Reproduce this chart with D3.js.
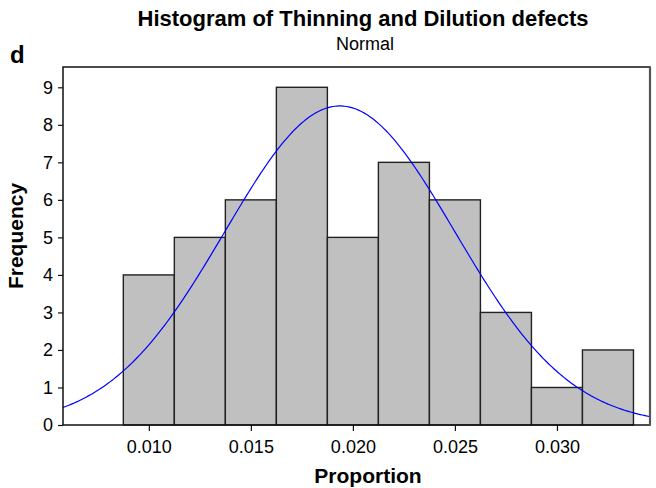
<!DOCTYPE html>
<html>
<head>
<meta charset="utf-8">
<script src="https://cdn.jsdelivr.net/npm/d3@7"></script>
<style>
  body { margin: 0; background: #fff; }
  text { font-family: "Liberation Sans", Arial, sans-serif; fill: #000; }
</style>
</head>
<body>
<div id="chart"></div>
<script>
// bin midpoints and counts
var midpoints = [0.010, 0.0125, 0.015, 0.0175, 0.020, 0.0225, 0.025, 0.0275, 0.030, 0.0325];
var counts = [4, 5, 6, 9, 5, 7, 6, 3, 1, 2];
var binWidth = 0.0025;
var xTicks = [0.010, 0.015, 0.020, 0.025, 0.030];
var yTicks = [0, 1, 2, 3, 4, 5, 6, 7, 8, 9];
// fitted normal (Minitab overlay)
var fitMean = 0.01936, fitSd = 0.00563;

(function() {
  var width = 656, height = 488;
  var left = 63, right = 650, top = 67, bottom = 425;

  var svg = d3.select("#chart").append("svg")
    .attr("width", width)
    .attr("height", height);

  var x = d3.scaleLinear().domain([0.005794, 0.03456]).range([left, right]);
  var y = d3.scaleLinear().domain([0, 9]).range([bottom, 87.3]);

  svg.append("clipPath").attr("id", "plotclip")
    .append("rect")
    .attr("x", left).attr("y", top)
    .attr("width", right - left).attr("height", bottom - top);

  // bars
  svg.selectAll(".bar")
    .data(midpoints)
    .enter().append("rect")
    .attr("class", "bar")
    .attr("x", function(d) { return x(d - binWidth / 2); })
    .attr("y", function(d, i) { return y(counts[i]); })
    .attr("width", function(d) { return x(d + binWidth / 2) - x(d - binWidth / 2); })
    .attr("height", function(d, i) { return y(0) - y(counts[i]); })
    .attr("fill", "#c0c0c0")
    .attr("stroke", "#222")
    .attr("stroke-width", 1.4);

  // normal curve scaled to counts
  var n = d3.sum(counts);
  var curveX = d3.range(x.domain()[0], x.domain()[1] + 1e-6, (x.domain()[1] - x.domain()[0]) / 300);
  var line = d3.line()
    .x(function(v) { return x(v); })
    .y(function(v) {
      var z = (v - fitMean) / fitSd;
      return y(n * binWidth * Math.exp(-0.5 * z * z) / (fitSd * Math.sqrt(2 * Math.PI)));
    });
  svg.append("path")
    .datum(curveX)
    .attr("d", line)
    .attr("clip-path", "url(#plotclip)")
    .attr("fill", "none")
    .attr("stroke", "#0000ff")
    .attr("stroke-width", 1.2);

  // frame
  svg.append("rect")
    .attr("x", left).attr("y", top)
    .attr("width", right - left).attr("height", bottom - top)
    .attr("fill", "none")
    .attr("stroke", "#111")
    .attr("stroke-width", 1.5);
  svg.append("line")
    .attr("x1", right).attr("x2", right)
    .attr("y1", top).attr("y2", bottom)
    .attr("stroke", "#555")
    .attr("stroke-width", 2.2);

  // axes
  var xAxis = svg.append("g")
    .attr("transform", "translate(0," + bottom + ")")
    .call(d3.axisBottom(x).tickValues(xTicks).tickFormat(d3.format(".3f")).tickSize(6).tickSizeOuter(0));
  var yAxis = svg.append("g")
    .attr("transform", "translate(" + left + ",0)")
    .call(d3.axisLeft(y).tickValues(yTicks).tickFormat(d3.format("d")).tickSize(5).tickSizeOuter(0));

  [xAxis, yAxis].forEach(function(g) {
    g.select(".domain").remove();
    g.selectAll("line").attr("stroke", "#111").attr("stroke-width", 1.2);
    g.selectAll("text")
      .attr("font-family", "Liberation Sans, Arial, sans-serif")
      .attr("font-size", 18)
      .attr("fill", "#000");
  });
  xAxis.selectAll("text").attr("dy", "0.71em").attr("y", 15);
  yAxis.selectAll("text").attr("x", -10);

  // titles
  svg.append("text")
    .attr("x", 363).attr("y", 26)
    .attr("text-anchor", "middle")
    .attr("font-size", 22).attr("font-weight", "bold")
    .text("Histogram of Thinning and Dilution defects");
  svg.append("text")
    .attr("x", 365).attr("y", 50)
    .attr("text-anchor", "middle")
    .attr("font-size", 18)
    .text("Normal");
  svg.append("text")
    .attr("x", 10).attr("y", 63)
    .attr("font-size", 24).attr("font-weight", "bold")
    .text("d");
  svg.append("text")
    .attr("x", 368).attr("y", 483)
    .attr("text-anchor", "middle")
    .attr("font-size", 21).attr("font-weight", "bold")
    .text("Proportion");
  svg.append("text")
    .attr("transform", "translate(23,236) rotate(-90)")
    .attr("text-anchor", "middle")
    .attr("font-size", 21).attr("font-weight", "bold")
    .text("Frequency");
})();
</script>
</body>
</html>
